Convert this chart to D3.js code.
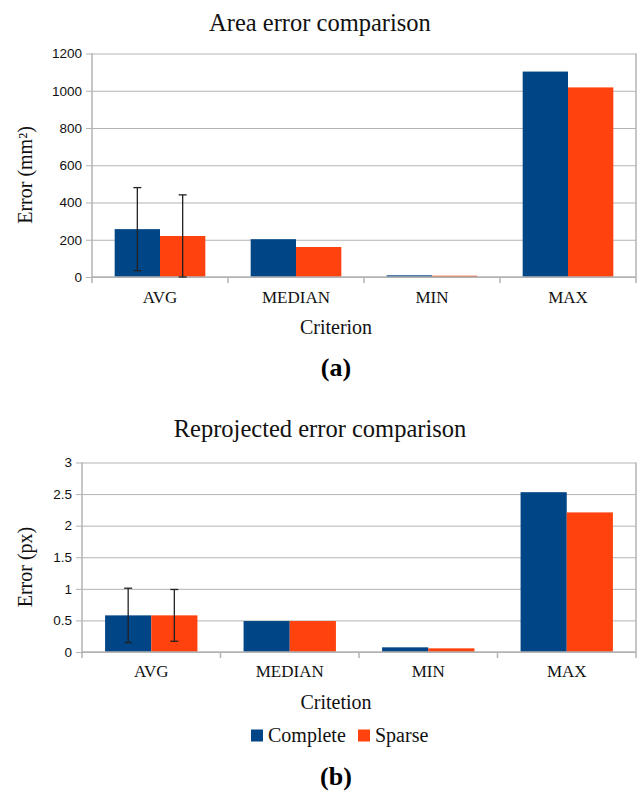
<!DOCTYPE html>
<html>
<head>
<meta charset="utf-8">
<script src="https://cdn.jsdelivr.net/npm/d3@7"></script>
<style>
  html, body { margin: 0; padding: 0; background: #fff; }
  svg { display: block; }
</style>
</head>
<body>
<div id="container"></div>
<script>
const width = 641, height = 793;
const SERIF = "'Liberation Serif', 'Times New Roman', serif";
const SANS = "'Liberation Sans', Arial, sans-serif";
const GRID = "#b3b3b3";

// --- Data ---
const categories = ["AVG", "MEDIAN", "MIN", "MAX"];
const seriesNames = ["Complete", "Sparse"];
const seriesColors = ["#004586", "#ff420e"];

const areaComplete = [257, 203, 9, 1103];
const areaSparse = [220, 161, 7, 1018];
const areaCompleteErr = [223, null, null, null];
const areaSparseErr = [221, null, null, null];
const areaTicks = [0, 200, 400, 600, 800, 1000, 1200];

const reprojComplete = [0.58, 0.49, 0.074, 2.53];
const reprojSparse = [0.58, 0.49, 0.058, 2.21];
const reprojCompleteErr = [0.43, null, null, null];
const reprojSparseErr = [0.41, null, null, null];
const reprojTicks = [0, 0.5, 1, 1.5, 2, 2.5, 3];

const svg = d3.select("#container")
  .append("svg").attr("width", width).attr("height", height);

function drawChart(cfg) {
  const { left, right, top, bottom } = cfg;
  const iw = right - left, ih = bottom - top;
  const g = svg.append("g").attr("transform", `translate(${left},${top})`);

  const x0 = d3.scaleBand().domain(categories).range([0, iw])
    .paddingInner(1 / 3).paddingOuter(1 / 6);
  const x1 = d3.scaleBand().domain(seriesNames).range([0, x0.bandwidth()]);
  const y = d3.scaleLinear().domain(cfg.domain).range([ih, 0]);

  // y grid + ticks
  const yAxis = g.append("g")
    .call(d3.axisLeft(y).tickValues(cfg.ticks).tickSizeInner(-iw).tickSizeOuter(0)
      .tickPadding(10).tickFormat(d3.format("~g")));
  yAxis.select(".domain").remove();
  yAxis.selectAll("line").attr("x1", -6).attr("stroke", GRID).attr("stroke-width", 1);
  yAxis.selectAll("text").attr("fill", "#111").style("font-family", SANS).style("font-size", "13.5px");

  // bars
  const rows = categories.map((c, i) => ({
    cat: c,
    vals: cfg.values.map((arr, s) => ({ s, name: seriesNames[s], v: arr[i], e: cfg.errors[s][i] })),
  }));
  const grp = g.selectAll(".cat").data(rows).join("g")
    .attr("transform", (d) => `translate(${x0(d.cat)},0)`);
  grp.selectAll("rect").data((d) => d.vals).join("rect")
    .attr("x", (d) => x1(d.name))
    .attr("y", (d) => y(d.v))
    .attr("width", x1.bandwidth())
    .attr("height", (d) => ih - y(d.v))
    .attr("fill", (d) => seriesColors[d.s]);

  // axis lines
  g.append("line").attr("x1", 0).attr("x2", iw).attr("y1", ih).attr("y2", ih)
    .attr("stroke", GRID).attr("stroke-width", 1.5);
  g.append("line").attr("x1", 0).attr("x2", 0).attr("y1", 0).attr("y2", ih + 6)
    .attr("stroke", GRID).attr("stroke-width", 1.5);
  g.append("line").attr("x1", iw).attr("x2", iw).attr("y1", 0).attr("y2", ih + 6)
    .attr("stroke", GRID).attr("stroke-width", 1.5);
  const step = x0.step();
  g.selectAll(".ctick").data(d3.range(1, categories.length)).join("line")
    .attr("x1", (d) => d * step).attr("x2", (d) => d * step)
    .attr("y1", ih).attr("y2", ih + 6)
    .attr("stroke", GRID).attr("stroke-width", 1.5);

  // error bars
  const errs = rows.flatMap((r) => r.vals.filter((d) => d.e != null)
    .map((d) => ({ ...d, cx: x0(r.cat) + x1(d.name) + x1.bandwidth() / 2 })));
  for (const d of errs) {
    const lo = Math.max(0, d.v - d.e), hi = d.v + d.e;
    g.append("line").attr("x1", d.cx).attr("x2", d.cx).attr("y1", y(hi)).attr("y2", y(lo))
      .attr("stroke", "#222").attr("stroke-width", 1.3);
    for (const v of [lo, hi]) {
      g.append("line").attr("x1", d.cx - 4).attr("x2", d.cx + 4).attr("y1", y(v)).attr("y2", y(v))
        .attr("stroke", "#222").attr("stroke-width", 1.3);
    }
  }

  // category labels
  const xAxis = g.append("g").attr("transform", `translate(0,${ih})`)
    .call(d3.axisBottom(x0).tickSize(0));
  xAxis.select(".domain").remove();
  xAxis.selectAll("text").attr("y", cfg.catBase - bottom).attr("dy", 0)
    .attr("fill", "#111").style("font-family", SERIF).style("font-size", "17px");

  // title
  svg.append("text").attr("x", 320).attr("y", cfg.titleBase)
    .attr("text-anchor", "middle").attr("fill", "#111")
    .style("font-family", SERIF).style("font-size", "24.5px").text(cfg.title);

  // axis titles
  svg.append("text").attr("x", 336).attr("y", cfg.xLabelBase)
    .attr("text-anchor", "middle").attr("fill", "#111")
    .style("font-family", SERIF).style("font-size", "20px").text(cfg.xLabel);
  svg.append("text").attr("transform", `translate(32,${cfg.yLabelMid}) rotate(-90)`)
    .attr("text-anchor", "middle").attr("fill", "#111")
    .style("font-family", SERIF).style("font-size", "20px").text(cfg.yLabel);

  // panel tag
  svg.append("text").attr("x", 336).attr("y", cfg.tagBase)
    .attr("text-anchor", "middle").attr("fill", "#000")
    .style("font-family", SERIF).style("font-size", "26px").style("font-weight", "700")
    .text(cfg.tag);
}

drawChart({
  left: 92, right: 636, top: 53.5, bottom: 277,
  domain: [0, 1200], ticks: areaTicks,
  values: [areaComplete, areaSparse], errors: [areaCompleteErr, areaSparseErr],
  title: "Area error comparison", titleBase: 31,
  catBase: 303, xLabel: "Criterion", xLabelBase: 334,
  yLabel: "Error (mm²)", yLabelMid: 175,
  tag: "(a)", tagBase: 376,
});

drawChart({
  left: 82, right: 636, top: 462.5, bottom: 652,
  domain: [0, 3], ticks: reprojTicks,
  values: [reprojComplete, reprojSparse], errors: [reprojCompleteErr, reprojSparseErr],
  title: "Reprojected error comparison", titleBase: 437,
  catBase: 677, xLabel: "Critetion", xLabelBase: 709,
  yLabel: "Error (px)", yLabelMid: 567,
  tag: "(b)", tagBase: 785,
});

// --- Legend ---
const legendX = [251, 358];
seriesNames.forEach((name, i) => {
  svg.append("rect").attr("x", legendX[i]).attr("y", 729.5)
    .attr("width", 12).attr("height", 12).attr("fill", seriesColors[i]);
  svg.append("text").attr("x", legendX[i] + 17).attr("y", 742)
    .attr("fill", "#111").style("font-family", SERIF).style("font-size", "20px").text(name);
});
</script>
</body>
</html>
